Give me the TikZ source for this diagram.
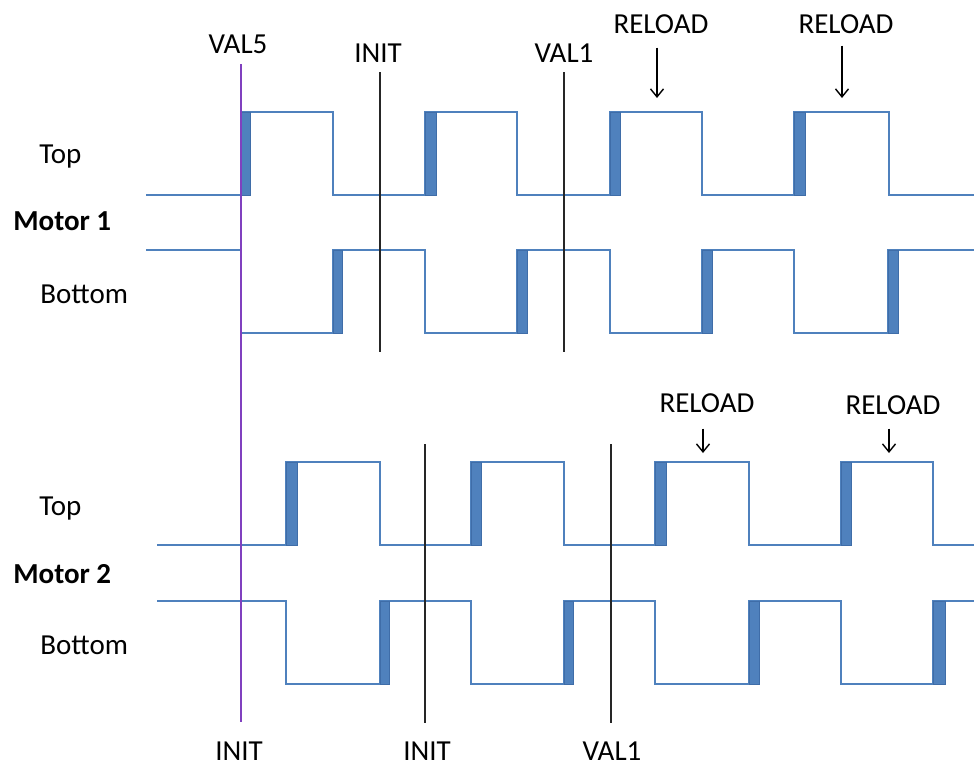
\documentclass[tikz,border=0pt]{standalone}
\usepackage{fontspec}
\setmainfont{Carlito}
\usetikzlibrary{arrows.meta}
\definecolor{wave}{HTML}{4F81BD}
\definecolor{waveedge}{HTML}{3F6DA8}
\definecolor{marker}{HTML}{8040BF}

\begin{document}
\begin{tikzpicture}[x=0.02cm,y=-0.02cm,>={Straight Barb[length=1.6mm,width=2.6mm]},
 font=\fontsize{16.5}{20}\selectfont,
 lbl/.style={inner sep=0pt,anchor=base},
 sig/.style={anchor=base west,inner sep=0pt},
 wv/.style={draw=wave,line width=1pt},
 dt/.style={fill=wave,draw=waveedge,line width=0.5pt},
 vm/.style={line width=1.2pt,black!85},
 v0/.style={line width=0.9pt,marker},
 rl/.style={->,line width=0.8pt}]
\useasboundingbox (0,0) rectangle (974,765);
% signal names
\node[sig] (t1) at (39,163) {Top};
\node[sig,font=\fontsize{16.5}{20}\selectfont\bfseries] (m1) at (13,230) {Motor 1};
\node[sig] (b1) at (40,303) {Bottom};
\node[sig] (t2) at (39,515) {Top};
\node[sig,font=\fontsize{16.5}{20}\selectfont\bfseries] (m2) at (13,583) {Motor 2};
\node[sig] (b2) at (40,654) {Bottom};
% event labels
\node[lbl] (val5) at (238,53) {VAL5};
\node[lbl] (init1) at (378,62) {INIT};
\node[lbl] (val1) at (564,62) {VAL1};
\node[lbl] (rl1) at (661,33) {RELOAD};
\node[lbl] (rl2) at (846,33) {RELOAD};
\node[lbl] (rl3) at (707,412) {RELOAD};
\node[lbl] (rl4) at (893,414) {RELOAD};
\node[lbl] (init0) at (239,760) {INIT};
\node[lbl] (init2) at (427,760) {INIT};
\node[lbl] (val1b) at (612,760) {VAL1};
% marker ends
\coordinate (p0a) at (241,64);  \coordinate (p0b) at (241,722);
\coordinate (p1a) at (380,72);  \coordinate (p1b) at (380,352);
\coordinate (p2a) at (564,72);  \coordinate (p2b) at (564,352);
\coordinate (p3a) at (425,444); \coordinate (p3b) at (425,723);
\coordinate (p4a) at (611,444); \coordinate (p4b) at (611,723);
\coordinate (a1) at (657,98);  \coordinate (a2) at (842,98);
\coordinate (a3) at (703,453); \coordinate (a4) at (889,453);

% motor 1 top
\draw[wv] (146,195) -- (241,195) -- (241,112) -- (333,112) -- (333,195) -- (425,195) -- (425,112)
 -- (517,112) -- (517,195) -- (610,195) -- (610,112) -- (702,112) -- (702,195) -- (794,195)
 -- (794,112) -- (889,112) -- (889,195) -- (974,195);
\draw[dt] (241,112) rectangle (250,195);
\draw[dt] (425,112) rectangle (436,195);
\draw[dt] (610,112) rectangle (620,195);
\draw[dt] (794,112) rectangle (805,195);
% motor 1 bottom
\draw[wv] (146,250) -- (241,250) -- (241,333) -- (333,333) -- (333,250) -- (425,250) -- (425,333)
 -- (517,333) -- (517,250) -- (610,250) -- (610,333) -- (702,333) -- (702,250) -- (794,250)
 -- (794,333) -- (888,333) -- (888,250) -- (974,250);
\draw[dt] (333,250) rectangle (342,333);
\draw[dt] (517,250) rectangle (527,333);
\draw[dt] (702,250) rectangle (712,333);
\draw[dt] (888,250) rectangle (898,333);
% motor 2 top
\draw[wv] (157,545) -- (286,545) -- (286,462) -- (380,462) -- (380,545) -- (471,545) -- (471,462)
 -- (564,462) -- (564,545) -- (655,545) -- (655,462) -- (749,462) -- (749,545) -- (841,545)
 -- (841,462) -- (933,462) -- (933,545) -- (974,545);
\draw[dt] (286,462) rectangle (297,545);
\draw[dt] (471,462) rectangle (481,545);
\draw[dt] (655,462) rectangle (666,545);
\draw[dt] (841,462) rectangle (851,545);
% motor 2 bottom
\draw[wv] (157,601) -- (286,601) -- (286,684) -- (380,684) -- (380,601) -- (471,601) -- (471,684)
 -- (564,684) -- (564,601) -- (655,601) -- (655,684) -- (749,684) -- (749,601) -- (841,601)
 -- (841,684) -- (933,684) -- (933,601) -- (974,601);
\draw[dt] (380,601) rectangle (389,684);
\draw[dt] (564,601) rectangle (573,684);
\draw[dt] (749,601) rectangle (759,684);
\draw[dt] (933,601) rectangle (945,684);

% event markers
\draw[v0] (p0a) -- (p0b);
\draw[vm] (p1a) -- (p1b);
\draw[vm] (p2a) -- (p2b);
\draw[vm] (p3a) -- (p3b);
\draw[vm] (p4a) -- (p4b);
\draw[rl] (rl1.south -| a1) ++(0,14) -- (a1);
\draw[rl] (rl2.south -| a2) ++(0,12) -- (a2);
\draw[rl] (rl3.south -| a3) ++(0,16) -- (a3);
\draw[rl] (rl4.south -| a4) ++(0,14) -- (a4);
\end{tikzpicture}
\end{document}
